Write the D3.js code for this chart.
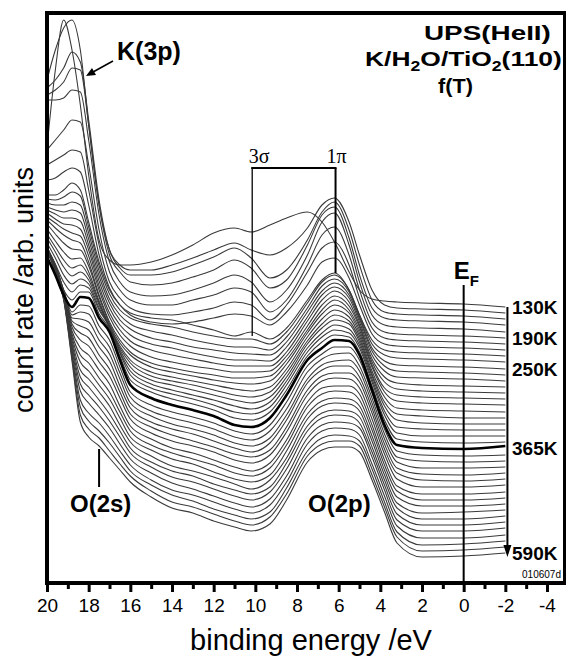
<!DOCTYPE html>
<html>
<head>
<meta charset="utf-8">
<script src="https://cdn.jsdelivr.net/npm/d3@7"></script>
<style>
  body { margin: 0; background: #fff; }
  text { font-family: "Liberation Sans", Arial, sans-serif; }
</style>
</head>
<body>
<script>
// ---- data ----
// binding energy grid (eV) shared by every spectrum
var energies = [20, 19.6, 19.2, 18.8, 18.4, 18, 17.5, 17, 16.5, 16, 15, 14, 13, 12, 11, 10.2, 9.3, 8.5, 7.5, 6.8, 6.2, 5.5, 5, 4.4, 3.8, 3.2, 2, 0, -2];

// annealing temperature of each spectrum (K), top to bottom
var temperatures = [130, 142, 154, 166, 178, 190, 202, 214, 226, 238, 250, 259, 268, 277, 286, 295, 304, 313, 322, 331, 340, 349, 357, 365,
  378, 392, 405, 418, 431, 444, 458, 471, 484, 497, 511, 524, 537, 550, 564, 577, 590];

// waterfall offset of each spectrum (arb. units)
var offsets = [276, 270, 264, 258, 251, 245, 239, 233, 227, 221, 214, 208, 202, 196, 190, 184, 178, 171, 165, 159, 153, 147, 141, 135,
  128, 122, 116, 110, 104, 98, 91, 85, 79, 73, 67, 61, 55, 48, 42, 36, 30];

// count rate above the offset, one row per temperature
var spectra = [
  [160,237,287,257,202,132,67,47,42,42,45,52,62,74,79,75,82,89,95,85,65,35,17,8,6,5,4,3,0],
  [233,263,285,293,263,188,108,63,48,43,43,48,55,63,70,63,58,65,85,108,115,91,58,23,8,5,4,3,0],
  [231,239,251,267,257,199,119,69,51,44,44,47,54,62,71,61,41,49,79,107,117,89,54,19,7,5,4,3,0],
  [230,235,243,257,255,200,120,70,53,43,40,42,48,55,65,57,37,45,80,110,118,87,50,17,7,5,4,3,0],
  [232,232,234,242,240,192,117,70,50,40,36,37,42,49,57,50,30,42,77,110,119,87,50,17,7,5,4,3,0],
  [188,198,208,218,216,173,108,66,48,38,33,33,38,43,50,46,26,38,73,103,111,83,48,16,6,4,3,2,0],
  [179,184,189,194,192,154,99,62,46,36,30,29,32,36,42,39,24,39,72,96,102,79,46,16,6,4,3,2,0],
  [170,172,178,182,178,145,95,62,45,35,28,26,28,32,36,34,25,38,65,88,92,72,45,16,6,4,3,2,0],
  [161,161,166,173,166,134,94,66,51,43,38,36,31,26,20,24,17,28,56,76,83,66,41,16,6,4,3,2,0],
  [163,162,165,170,166,135,96,68,52,44,38,35,30,26,23,23,18,30,59,80,87,72,47,18,7,4,3,2,0],
  [166,164,164,167,164,136,98,70,54,45,38,34,29,25,22,22,19,32,61,83,90,77,52,21,8,4,3,2,0],
  [168,165,163,165,162,136,99,72,55,46,37,33,28,25,22,21,20,33,63,84,92,80,56,24,9,4,3,2,0],
  [171,167,163,163,160,136,100,73,56,46,37,33,28,24,21,21,20,34,64,86,94,83,59,26,10,4,3,2,0],
  [174,168,163,162,158,137,101,74,57,46,37,32,28,24,21,21,21,35,66,87,96,85,62,28,10,4,2,1,0],
  [176,170,164,160,157,137,103,76,58,47,36,31,27,24,21,21,22,37,67,88,97,87,66,31,11,4,2,1,0],
  [179,171,164,159,156,137,104,77,59,47,36,31,27,24,21,21,23,39,69,89,99,89,69,34,11,4,2,1,0],
  [181,171,162,156,155,139,108,81,62,50,38,33,29,25,22,21,24,41,72,91,100,92,72,38,13,4,2,1,0],
  [183,171,160,153,154,140,111,86,66,52,40,35,31,27,23,21,25,43,75,93,102,95,76,41,15,4,2,1,0],
  [184,171,158,150,153,142,115,91,70,55,42,37,33,28,23,21,26,45,77,94,103,97,79,44,16,4,2,0,0],
  [186,172,157,148,152,144,119,97,74,57,44,39,34,29,24,21,27,47,80,96,104,100,82,48,18,4,1,0,0],
  [187,172,155,146,151,146,122,103,78,59,46,40,35,30,24,21,28,49,82,97,105,101,85,51,19,3,1,0,0],
  [189,172,154,144,151,148,126,109,83,61,48,42,37,31,24,22,29,51,84,99,106,103,88,54,21,3,0,0,0],
  [190,172,152,142,150,150,128,113,86,62,50,43,38,32,24,22,30,52,86,100,107,105,90,56,22,3,0,-1,0],
  [191,173,153,141,151,150,130,116,88,63,50,43,38,32,23,21,30,53,88,100,108,107,93,58,23,3,0,-1,2],
  [205,190,165,143,150,149,129,115,88,63,50,43,38,32,24,21,30,53,89,101,108,108,95,62,26,4,0,-1,0],
  [212,196,170,146,149,147,128,114,88,64,50,43,38,32,24,21,30,52,89,102,107,108,95,63,27,4,0,-1,0],
  [218,201,176,149,148,145,127,113,88,64,51,43,38,32,24,21,29,52,88,102,106,107,96,64,28,5,-1,-1,0],
  [224,207,182,152,147,143,126,112,87,65,51,44,39,32,25,21,30,53,90,103,107,107,96,65,29,5,-1,-2,0],
  [231,212,187,155,146,141,124,110,87,65,52,44,38,32,25,22,29,52,89,103,106,106,97,66,30,6,-1,-2,0],
  [237,218,193,158,145,139,123,109,87,66,52,44,39,33,25,22,30,53,90,104,107,106,97,66,31,6,-2,-2,0],
  [243,224,198,161,144,137,122,108,86,66,53,44,39,32,25,21,29,52,90,104,106,106,98,67,32,6,-2,-2,0],
  [250,229,204,164,143,135,120,106,86,67,53,45,39,33,25,22,30,53,91,104,107,106,98,68,33,7,-2,-2,0],
  [256,235,209,167,142,133,119,105,86,67,54,45,40,32,25,22,29,53,90,103,106,105,98,68,34,7,-2,-2,0],
  [262,240,215,170,140,131,118,104,85,68,54,44,39,33,26,21,30,52,91,104,107,106,99,69,35,7,-3,-2,0],
  [269,246,220,173,139,129,116,102,85,68,54,45,40,32,26,22,29,53,90,103,106,105,99,69,36,8,-3,-3,0],
  [275,251,226,176,138,127,115,101,85,69,55,45,40,33,26,22,30,53,91,104,107,106,99,70,37,8,-3,-3,0],
  [281,257,231,179,137,125,113,100,84,69,55,45,39,32,25,21,29,52,90,103,106,105,100,71,38,8,-3,-3,0],
  [288,262,237,183,135,122,112,99,84,70,55,45,40,33,26,22,30,53,91,104,107,106,100,71,39,9,-3,-3,0],
  [294,268,242,186,134,120,110,98,84,70,56,46,40,32,26,22,29,53,90,103,106,105,100,72,39,9,-4,-3,0],
  [301,275,248,189,132,118,109,96,83,71,56,45,40,33,26,22,30,53,91,103,106,106,101,72,40,10,-4,-3,0],
  [308,281,253,192,131,116,107,95,83,71,56,45,40,32,26,22,29,53,91,103,106,106,101,73,41,10,-4,-3,0]
];

var labelledCurves = [0, 5, 10, 23, 40];     // rows that get a temperature label
var boldCurve = 23;                           // 365K drawn heavy
var majorTicks = [20, 18, 16, 14, 12, 10, 8, 6, 4, 2, 0, -2, -4];
var minorTicks = [19, 17, 15, 13, 11, 9, 7, 5, 3, 1, -1, -3];

// ---- layout ----
var width = 568, height = 657;
var plot = {left: 47, right: 564.5, top: 13, bottom: 583};

var x = d3.scaleLinear().domain([20, -4.84]).range([plot.left, plot.right]);
var y = d3.scaleLinear().domain([0, 570]).range([plot.bottom, plot.top]);

var svg = d3.select("body").append("svg")
  .attr("width", width)
  .attr("height", height);

svg.append("defs").append("clipPath").attr("id", "clip")
  .append("rect")
  .attr("x", plot.left).attr("y", plot.top)
  .attr("width", plot.right - plot.left).attr("height", plot.bottom - plot.top);

// ---- spectra ----
var line = d3.line()
  .x(function(d, j) { return x(energies[j]); })
  .curve(d3.curveMonotoneX);

var curves = svg.append("g").attr("clip-path", "url(#clip)");

spectra.forEach(function(row, i) {
  if (i === boldCurve) return;
  curves.append("path")
    .attr("d", line.y(function(v) { return y(offsets[i] + v); })(row))
    .attr("fill", "none")
    .attr("stroke", "#3a3a3a")
    .attr("stroke-width", 1.1);
});
curves.append("path")
  .attr("d", line.y(function(v) { return y(offsets[boldCurve] + v); })(spectra[boldCurve]))
  .attr("fill", "none")
  .attr("stroke", "#000")
  .attr("stroke-width", 2.6);

// ---- axes ----
var xAxis = svg.append("g")
  .attr("transform", "translate(0," + plot.bottom + ")")
  .call(d3.axisBottom(x).tickValues(majorTicks).tickSize(9).tickPadding(7)
    .tickFormat(function(d) { return String(d); }));
xAxis.select(".domain").remove();
xAxis.selectAll("line").attr("stroke", "#000").attr("stroke-width", 3);
xAxis.selectAll("text").attr("font-size", 19).attr("fill", "#000")
  .style("font-family", "'Liberation Sans', Arial, sans-serif");

var xMinor = svg.append("g")
  .attr("transform", "translate(0," + plot.bottom + ")")
  .call(d3.axisBottom(x).tickValues(minorTicks).tickSize(6).tickFormat(""));
xMinor.select(".domain").remove();
xMinor.selectAll("line").attr("stroke", "#000").attr("stroke-width", 3);

// frame
svg.append("line").attr("x1", plot.left).attr("x2", plot.left)
  .attr("y1", plot.top - 2).attr("y2", plot.bottom + 2)
  .attr("stroke", "#000").attr("stroke-width", 4);
svg.append("line").attr("x1", plot.left - 2).attr("x2", plot.right + 1.5)
  .attr("y1", plot.top).attr("y2", plot.top)
  .attr("stroke", "#000").attr("stroke-width", 4);
svg.append("line").attr("x1", plot.right).attr("x2", plot.right)
  .attr("y1", plot.top).attr("y2", plot.bottom)
  .attr("stroke", "#000").attr("stroke-width", 3);
svg.append("line").attr("x1", plot.left - 2).attr("x2", plot.right + 1.5)
  .attr("y1", plot.bottom).attr("y2", plot.bottom)
  .attr("stroke", "#000").attr("stroke-width", 4);

// axis titles
svg.append("text")
  .attr("x", 311).attr("y", 650)
  .attr("text-anchor", "middle")
  .attr("font-size", 29)
  .text("binding energy /eV");

svg.append("text")
  .attr("transform", "translate(33,290) rotate(-90)")
  .attr("text-anchor", "middle")
  .attr("font-size", 27)
  .text("count rate /arb. units");

// ---- annotations ----
function addLine(x1, y1, x2, y2, w) {
  svg.append("line")
    .attr("x1", x1).attr("y1", y1).attr("x2", x2).attr("y2", y2)
    .attr("stroke", "#000").attr("stroke-width", w);
}

// title block: the original lettering is wider than plain bold Arial,
// so each line is stretched to the span it covers in the figure
function titleLine(x0, x1, base) {
  var g = svg.append("g").attr("transform", "translate(" + x0 + "," + base + ")");
  var t = g.append("text").attr("font-weight", "bold").attr("font-size", 21);
  return {g: g, t: t, span: x1 - x0};
}
function fitTitle(l) {
  var w = l.t.node().getComputedTextLength();
  l.g.attr("transform", l.g.attr("transform") + " scale(" + (l.span / w) + ",1)");
}
var l1 = titleLine(424, 551, 40);
l1.t.text("UPS(HeII)");
var l2 = titleLine(365, 562, 66);
l2.t.append("tspan").text("K/H");
l2.t.append("tspan").attr("font-size", 14).attr("dy", 5).text("2");
l2.t.append("tspan").attr("dy", -5).text("O/TiO");
l2.t.append("tspan").attr("font-size", 14).attr("dy", 5).text("2");
l2.t.append("tspan").attr("dy", -5).text("(110)");
var l3 = titleLine(438, 473, 93);
l3.t.text("f(T)");
[l1, l2, l3].forEach(fitTitle);

// K(3p) with arrow
svg.append("text").attr("x", 117).attr("y", 60)
  .attr("font-weight", "bold").attr("font-size", 25).text("K(3p)");
addLine(113, 61, 93, 72, 1.5);
svg.append("path").attr("d", "M86,76 L92,68 L96,75 Z").attr("fill", "#000");

// 3sigma / 1pi bracket
var xs = x(10.15), xp = x(6.15);
addLine(xs - 1, 168, xp + 1, 168, 2.2);
addLine(xs, 168, xs, 336, 1.3);
addLine(xp, 168, xp, 273, 2);
svg.append("text").attr("x", xs + 7).attr("y", 163).attr("text-anchor", "middle")
  .style("font-family", "'Liberation Serif', 'Times New Roman', serif")
  .attr("font-size", 20).text("3\u03c3");
svg.append("text").attr("x", xp + 1).attr("y", 163).attr("text-anchor", "middle")
  .style("font-family", "'Liberation Serif', 'Times New Roman', serif")
  .attr("font-size", 20).text("1\u03c0");

// Fermi level
addLine(x(0), 285, x(0), plot.bottom, 2);
var ef = svg.append("text").attr("x", x(0) - 10).attr("y", 279)
  .attr("font-weight", "bold").attr("font-size", 24);
ef.append("tspan").text("E");
ef.append("tspan").attr("font-size", 15).attr("dy", 7).text("F");

// temperature arrow on the right
var xr = x(-2.1);
addLine(xr, y(offsets[0]), xr, y(offsets[40]) - 4, 2);
svg.append("path")
  .attr("d", "M" + (xr - 4) + "," + (y(offsets[40]) - 8) + " L" + (xr + 4) + "," + (y(offsets[40]) - 8) +
    " L" + xr + "," + (y(offsets[40]) + 4) + " Z")
  .attr("fill", "#000");

labelledCurves.forEach(function(i) {
  svg.append("text")
    .attr("x", 512).attr("y", y(offsets[i]))
    .attr("dy", "0.36em")
    .attr("font-weight", "bold").attr("font-size", 19)
    .text(temperatures[i] + "K");
});

// O(2s), O(2p)
addLine(x(17.5), 449, x(17.5), 487, 2);
svg.append("text").attr("x", 70).attr("y", 512)
  .attr("font-weight", "bold").attr("font-size", 24).text("O(2s)");
svg.append("text").attr("x", 308).attr("y", 512)
  .attr("font-weight", "bold").attr("font-size", 24).text("O(2p)");

svg.append("text").attr("x", 561).attr("y", 578).attr("text-anchor", "end")
  .attr("font-size", 10).text("010607d");
</script>
</body>
</html>
